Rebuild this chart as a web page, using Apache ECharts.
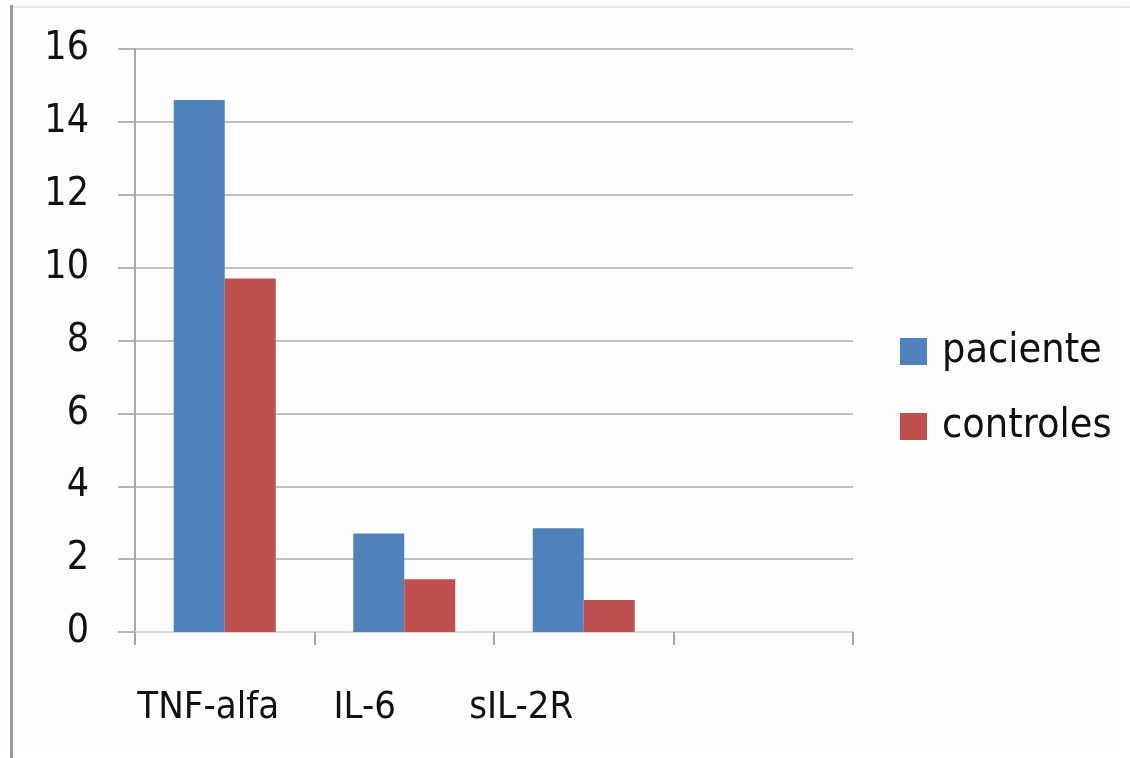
<!DOCTYPE html>
<html>
<head>
<meta charset="utf-8">
<title>paciente vs controles</title>
<script src="https://cdn.jsdelivr.net/npm/echarts@6/dist/echarts.min.js"></script>
<style>
  html, body { margin: 0; padding: 0; background: #ffffff; }
  #chart { width: 1130px; height: 758px; }
</style>
</head>
<body>
<div id="chart"></div>
<script>
// Cytokine levels: patient vs. control group
const categories = ['TNF-alfa', 'IL-6', 'sIL-2R', ''];
const paciente = [14.6, 2.7, 2.85, null];
const controles = [9.7, 1.45, 0.88, null];
const seriesNames = ['paciente', 'controles'];
const yTicks = { min: 0, max: 16, interval: 2 };

const FONT = "'DejaVu Sans Condensed', 'Liberation Sans Narrow', 'Open Sans', sans-serif";
const TEXT = '#111111';

const chart = echarts.init(document.getElementById('chart'), null, { renderer: 'canvas' });

chart.setOption({
  backgroundColor: '#ffffff',
  animation: false,
  textStyle: { fontFamily: FONT },
  color: ['#4F81BD', '#C0504D'],
  legend: {
    data: seriesNames,
    orient: 'vertical',
    left: 900,
    top: 331,
    padding: 0,
    icon: 'rect',
    itemWidth: 27,
    itemHeight: 27,
    itemGap: 34,
    selectedMode: false,
    textStyle: { fontFamily: FONT, fontSize: 41, lineHeight: 41, color: TEXT, padding: [0, 0, 0, 10] }
  },
  grid: [
    { left: 135, right: 277, top: 49, bottom: 126 },
    // label band for the category names
    { left: 130, right: 374, top: 49, bottom: 126 }
  ],
  xAxis: [
    {
      type: 'category',
      gridIndex: 0,
      data: categories,
      boundaryGap: true,
      axisLine: { show: true, lineStyle: { color: '#d8d8d8', width: 2 } },
      axisTick: { show: true, alignWithLabel: false, length: 13, lineStyle: { color: '#a6a6a6', width: 2 } },
      axisLabel: { show: false },
      splitLine: { show: false }
    },
    {
      type: 'category',
      gridIndex: 1,
      data: categories,
      axisLine: { show: false },
      axisTick: { show: false },
      axisLabel: {
        show: true,
        interval: 0,
        margin: 57,
        fontFamily: FONT,
        fontSize: 38,
        lineHeight: 38,
        color: TEXT
      }
    }
  ],
  yAxis: [
    {
      type: 'value',
      gridIndex: 0,
      min: yTicks.min,
      max: yTicks.max,
      interval: yTicks.interval,
      axisLine: { show: true, lineStyle: { color: '#a6a6a6', width: 2 } },
      axisTick: { show: true, length: 17, lineStyle: { color: '#b4b4b4', width: 2 } },
      axisLabel: {
        margin: 46,
        fontFamily: FONT,
        fontSize: 39,
        lineHeight: 39,
        color: TEXT
      },
      splitLine: { show: true, lineStyle: { color: '#c2c2c2', width: 2 } }
    },
    {
      type: 'value',
      gridIndex: 1,
      show: false,
      min: yTicks.min,
      max: yTicks.max
    }
  ],
  series: [
    {
      name: seriesNames[0],
      type: 'bar',
      xAxisIndex: 0,
      yAxisIndex: 0,
      data: paciente,
      barWidth: 51,
      barGap: '0%',
      itemStyle: { color: '#4F81BD' }
    },
    {
      name: seriesNames[1],
      type: 'bar',
      xAxisIndex: 0,
      yAxisIndex: 0,
      data: controles,
      barWidth: 51,
      barGap: '0%',
      itemStyle: { color: '#C0504D' }
    }
  ],
  graphic: [
    // frame edges of the chart area
    { type: 'rect', left: 0, top: 0, z: -10, shape: { x: 12, y: 7, width: 1118, height: 751 }, style: { fill: '#fdfdfd' } },
    { type: 'line', z: 10, shape: { x1: 13, y1: 7, x2: 1130, y2: 7 }, style: { stroke: '#e6e6e6', lineWidth: 2 } },
    { type: 'line', z: 10, shape: { x1: 11.5, y1: 5, x2: 11.5, y2: 758 }, style: { stroke: '#9a9a9a', lineWidth: 3 } }
  ]
});
</script>
</body>
</html>
